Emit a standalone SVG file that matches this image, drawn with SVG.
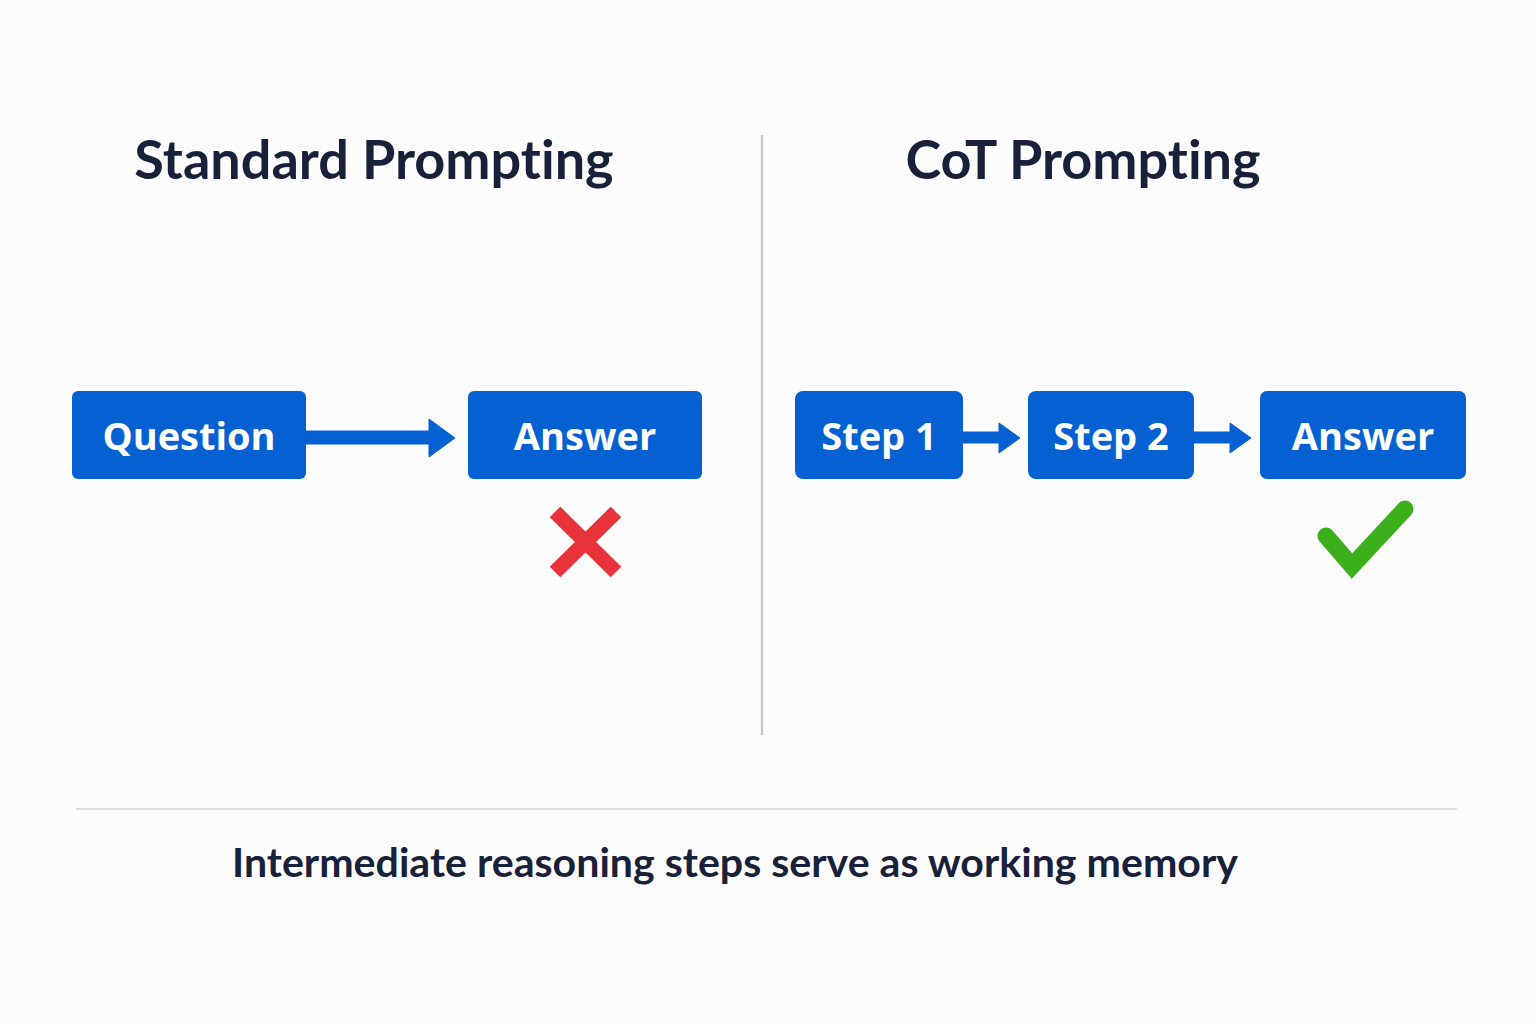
<svg xmlns="http://www.w3.org/2000/svg" width="1536" height="1024" viewBox="0 0 1536 1024">
<defs>
<style>
.title{font-family:Lato,"Open Sans","Noto Sans",sans-serif;font-weight:700;font-size:54px;fill:#17213a;text-anchor:middle;font-variant-ligatures:none}
.box{fill:#0561d1}
.lbl{font-family:"Open Sans","Noto Sans",Lato,sans-serif;font-weight:700;font-size:38px;fill:#ffffff;text-anchor:middle}
.conn{fill:#0561d1}
.foot{font-family:Lato,"Open Sans","Noto Sans",sans-serif;font-weight:700;font-size:40px;fill:#17213a;text-anchor:middle;font-variant-ligatures:none}
</style>
</defs>
<rect width="1536" height="1024" fill="#fcfcfd"/>
<text class="title" x="374" y="179">Standard Prompting</text>
<text class="title" x="1083" y="179">CoT Prompting</text>
<line x1="762" y1="135" x2="762" y2="735" stroke="#c9c9cc" stroke-width="2.5"/>
<g id="n-question"><rect class="box" x="72" y="391" width="234" height="88" rx="6"/><text class="lbl" x="189" y="450">Question</text></g>
<g id="n-answer1"><rect class="box" x="468" y="391" width="234" height="88" rx="6"/><text class="lbl" x="585" y="450">Answer</text></g>
<g id="n-step1"><rect class="box" x="795" y="391" width="168" height="88" rx="8"/><text class="lbl" x="879" y="450">Step 1</text></g>
<g id="n-step2"><rect class="box" x="1028" y="391" width="166" height="88" rx="8"/><text class="lbl" x="1111" y="450">Step 2</text></g>
<g id="n-answer2"><rect class="box" x="1260" y="391" width="206" height="88" rx="7"/><text class="lbl" x="1363" y="450">Answer</text></g>
<g id="connectors">
<polygon class="conn" points="306,431 429,431 429,419 455,438 429,457 429,444 306,444" stroke="#0561d1" stroke-width="1" stroke-linejoin="round"/>
<polygon class="conn" points="963,432 999,432 999,423 1020,438 999,453 999,443 963,443" stroke="#0561d1" stroke-width="1" stroke-linejoin="round"/>
<polygon class="conn" points="1194,432 1230,432 1230,423 1251,438 1230,453 1230,443 1194,443" stroke="#0561d1" stroke-width="1" stroke-linejoin="round"/>
</g>
<g id="cross" stroke="#e8333a" stroke-width="15">
<line x1="555" y1="512" x2="616" y2="572"/>
<line x1="616" y1="512" x2="555" y2="572"/>
</g>
<polyline id="check" points="1326,536 1352,566 1405,509" fill="none" stroke="#3cb01a" stroke-width="17" stroke-linejoin="miter" stroke-linecap="round"/>
<line x1="76" y1="809" x2="1457" y2="809" stroke="#dcdce6" stroke-width="2"/>
<text class="foot" x="735" y="877" textLength="1006" lengthAdjust="spacingAndGlyphs">Intermediate reasoning steps serve as working memory</text>
</svg>
